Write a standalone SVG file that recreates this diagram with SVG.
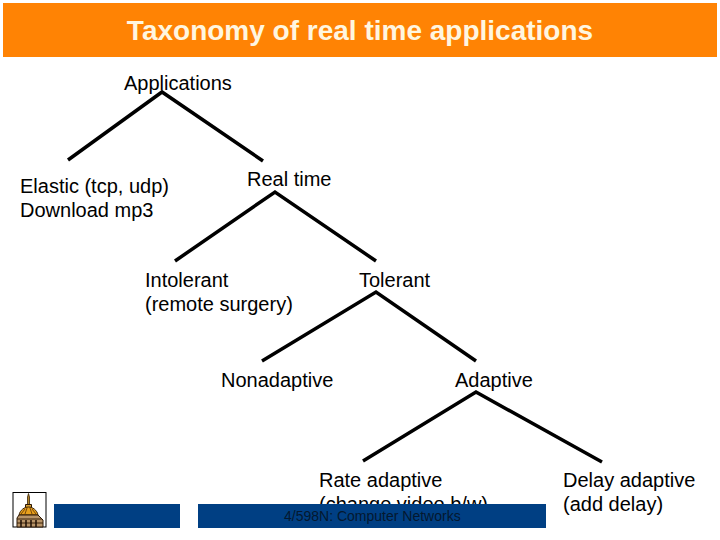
<svg xmlns="http://www.w3.org/2000/svg" width="720" height="540" viewBox="0 0 720 540">
<style>
text{font-family:"Liberation Sans",Arial,sans-serif;font-size:20px;fill:#000}
.title{font-size:28px;font-weight:700;fill:#fff6e0}
.edge{stroke:#000;stroke-width:3.500;fill:none}
.band{fill:#003f83}
</style>
<rect width="720" height="540" fill="#fff"/>
<g id="header"><rect x="3" y="3" width="714" height="54" fill="#ff8304"/><text class="title" x="360" y="40" text-anchor="middle">Taxonomy of real time applications</text></g>
<g id="connectors">
<path class="edge" d="M68 160L162 92L263 161"/>
<path class="edge" d="M175 261L275 192L376 261"/>
<path class="edge" d="M262 361L376 292L476 361"/>
<path class="edge" d="M363 461L476 392L602 462"/>
</g>
<g id="n-applications"><text x="124" y="90">Applications</text></g>
<g id="n-elastic"><text x="20" y="193">Elastic (tcp, udp)</text><text x="20" y="217">Download mp3</text></g>
<g id="n-realtime"><text x="247" y="186">Real time</text></g>
<g id="n-intolerant"><text x="145" y="287">Intolerant</text><text x="145" y="311">(remote surgery)</text></g>
<g id="n-tolerant"><text x="359" y="287">Tolerant</text></g>
<g id="n-nonadaptive"><text x="221" y="387">Nonadaptive</text></g>
<g id="n-adaptive"><text x="455" y="387">Adaptive</text></g>
<g id="n-rate"><text x="319" y="487">Rate adaptive</text><text x="319" y="511">(change video b/w)</text></g>
<g id="n-delay"><text x="563" y="487">Delay adaptive</text><text x="563" y="511">(add delay)</text></g>
<g id="footer">
<rect class="band" x="54" y="504" width="126" height="24"/>
<rect class="band" x="198" y="504" width="348" height="24"/>
<text x="284" y="521" style="font-size:14px;fill:#04182f">4/598N: Computer Networks</text>
</g>
<g id="logo">
<rect x="13" y="492.500" width="33" height="34.500" fill="#fff" stroke="#000" stroke-width="1"/>
<path d="M27.500 505V497L28.500 493.500L29.500 497V505Z" fill="#b08428" stroke="#3a2208" stroke-width=".8"/>
<path d="M25.500 508V504.500H31.500V508Z" fill="#d8a030" stroke="#2a1605" stroke-width="1"/>
<path d="M19 515C20 510 24.500 507 28.500 507C32.500 507 37 510 38 515Z" fill="#e8a01c" stroke="#3a2208" stroke-width="1"/>
<path d="M25 514L27 508M32 514L30 508M21 514L25 509M36 514L32 509" stroke="#7a4a0c" stroke-width="1" fill="none"/>
<path d="M17 527V518L19 515H38L41 518L43 520V527Z" fill="#b89468" stroke="#2a1605" stroke-width="1"/>
<path d="M17 519H42M17 523H43" stroke="#3a2208" stroke-width="1"/>
<path d="M21 520V527M26 520V527M31 520V527M36 520V527" stroke="#1e0f03" stroke-width="1.500"/>
</g>
</svg>
